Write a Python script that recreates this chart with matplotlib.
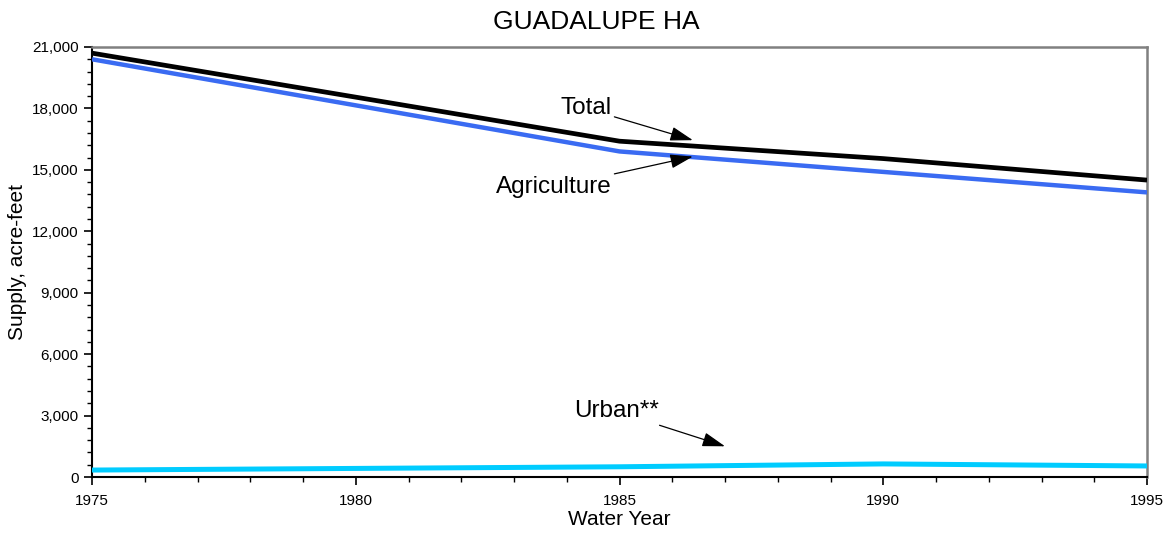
import matplotlib
matplotlib.use("Agg")
import matplotlib.pyplot as plt
from matplotlib.ticker import MultipleLocator, FuncFormatter

plt.rcParams['font.family'] = ['Liberation Sans', 'DejaVu Sans']

years = [1975, 1980, 1985, 1990, 1995]
total = [20700, 18550, 16400, 15550, 14500]
agriculture = [20400, 18150, 15900, 14900, 13900]
urban_years = [1975, 1980, 1985, 1990, 1992, 1995]
urban = [340, 420, 500, 640, 600, 540]

title = "GUADALUPE HA"
xlabel = "Water Year"
ylabel = "Supply, acre-feet"

fig = plt.figure(figsize=(11.72, 5.34), dpi=100)
ax = fig.add_axes([0.0785, 0.1067, 0.9002, 0.8053])

ax.plot(years, total, color='black', lw=3.4, solid_capstyle='butt', zorder=3)
ax.plot(years, agriculture, color='#3A6BF2', lw=3.2, solid_capstyle='butt', zorder=3)
ax.plot(urban_years, urban, color='#00CCFF', lw=3.6, solid_capstyle='butt', zorder=3)

ax.set_xlim(1975, 1995)
ax.set_ylim(0, 21000)
ax.xaxis.set_major_locator(MultipleLocator(5))
ax.xaxis.set_minor_locator(MultipleLocator(1))
ax.yaxis.set_major_locator(MultipleLocator(3000))
ax.yaxis.set_minor_locator(MultipleLocator(600))
ax.yaxis.set_major_formatter(FuncFormatter(lambda v, p: f"{int(v):,}"))

ax.tick_params(axis='both', which='major', direction='out', length=6, width=1.2, labelsize=11, colors='black')
ax.tick_params(axis='both', which='minor', direction='out', length=3.5, width=1.0)
ax.tick_params(axis='x', pad=6)

for s in ['left', 'bottom']:
    ax.spines[s].set_color('black')
    ax.spines[s].set_linewidth(1.5)
for s in ['top', 'right']:
    ax.spines[s].set_color('#808080')
    ax.spines[s].set_linewidth(1.8)

fig.text(596 / 1172, 1 - 22 / 534, title, fontsize=19, ha='center', va='center')
ax.set_xlabel(xlabel, fontsize=15, labelpad=2)
ax.set_ylabel(ylabel, fontsize=15, labelpad=4)

arrow = dict(arrowstyle='-|>,head_length=0.8,head_width=0.25', color='black', lw=0.9, shrinkA=0, shrinkB=0)
ax.annotate("Total", xy=(1986.39, 16450), xytext=(1984.85, 18000),
            ha='right', va='center', fontsize=17.5, arrowprops=arrow)
ax.annotate("Agriculture", xy=(1986.39, 15650), xytext=(1984.85, 14150),
            ha='right', va='center', fontsize=17.5, arrowprops=arrow)
ax.annotate("Urban**", xy=(1987.0, 1500), xytext=(1985.75, 3200),
            ha='right', va='center', fontsize=17.5, arrowprops=arrow)

fig.savefig("out.png", dpi=100)
